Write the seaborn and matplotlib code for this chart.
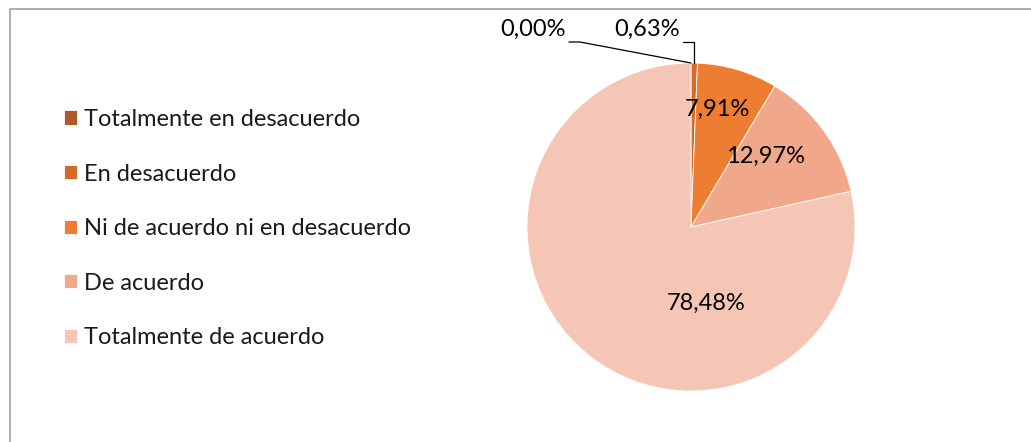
import matplotlib
matplotlib.use("Agg")
import matplotlib.pyplot as plt
import seaborn as sns
import numpy as np

categories = ["Totalmente en desacuerdo", "En desacuerdo", "Ni de acuerdo ni en desacuerdo",
              "De acuerdo", "Totalmente de acuerdo"]
values = [0.00, 0.63, 7.91, 12.97, 78.48]
colors = ["#AE5A27", "#D26B27", "#ED7D31", "#F1A78A", "#F5C6B5"]
pct_labels = [f"{v:.2f}".replace(".", ",") + "%" for v in values]

sns.set_theme(style="white")
plt.rcParams["font.family"] = ["Lato", "DejaVu Sans"]

W, H = 1031, 442
fig = plt.figure(figsize=(W / 100, H / 100), dpi=100)
ax = fig.add_axes([0, 0, 1, 1])

def py(y):
    return H - y

cx, cy, R = 691, py(227), 164
wedges, _ = ax.pie(values, colors=colors, startangle=90, counterclock=False,
                   center=(cx, cy), radius=R,
                   wedgeprops=dict(linewidth=0.6, edgecolor="white"))
ax.set_xlim(0, W)
ax.set_ylim(0, H)
ax.set_aspect("equal")
ax.axis("off")

fs = 17
# data labels (positions in pixel layout)
label_pos = [(533, 29), (647, 29), (717, 109), (766, 156), (706, 303)]
for txt, (x, y) in zip(pct_labels, label_pos):
    ax.text(x, py(y), txt, ha="center", va="center", fontsize=fs, color="#000000")

# leader lines to the wedge edge
def edge_point(w):
    th = np.deg2rad((w.theta1 + w.theta2) / 2)
    return cx + R * np.cos(th), cy + R * np.sin(th)

ex0, ey0 = edge_point(wedges[0])
ax.plot([569, 580, ex0], [py(42), py(42), ey0], color="black", lw=0.9)
ex1, ey1 = edge_point(wedges[1])
ax.plot([683, ex1, ex1], [py(42), py(42), ey1], color="black", lw=0.9)

# chart frame
ax.plot([10, 10, W], [0, py(9), py(9)], color="#A0A0A0", lw=1.2, clip_on=False)

leg = ax.legend(wedges, categories, loc="upper left",
                bbox_to_anchor=(64 / W, 1 - 109 / H), bbox_transform=fig.transFigure,
                frameon=False, fontsize=fs, handlelength=0.56, handleheight=0.56,
                handletextpad=0.3, labelspacing=1.42, borderpad=0, borderaxespad=0)
for t in leg.get_texts():
    t.set_color("#1a1a1a")

fig.savefig("out.png", dpi=100)
